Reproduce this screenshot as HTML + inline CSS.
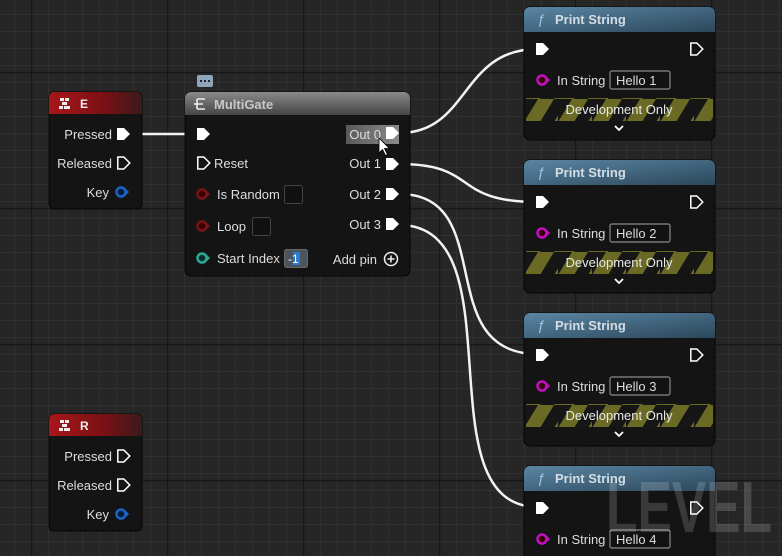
<!DOCTYPE html>
<html><head><meta charset="utf-8"><style>
html,body{margin:0;padding:0;background:#262626;overflow:hidden;width:782px;height:556px}
svg{display:block}
text{font-family:"Liberation Sans",sans-serif}
</style></head><body>
<svg width="782" height="556" viewBox="0 0 782 556" xmlns="http://www.w3.org/2000/svg">
<defs>
<pattern id="minor" x="-3" y="-3" width="17" height="17" patternUnits="userSpaceOnUse">
<path d="M0,0.5 H17 M0.5,0 V17" stroke="#303030" stroke-width="1" fill="none"/>
</pattern>
<pattern id="major" x="31" y="72" width="136" height="136" patternUnits="userSpaceOnUse">
<path d="M0,0.5 H136 M0.5,0 V136" stroke="#171717" stroke-width="1.5" fill="none"/>
</pattern>
<pattern id="stripes" x="0" y="0" width="34" height="23" patternUnits="userSpaceOnUse">
<rect width="34" height="23" fill="#161616"/>
<polygon points="0,23 14,0 30,0 16,23" fill="#6a6a24"/>
<polygon points="30,23 44,0 60,0 46,23" fill="#6a6a24"/>
</pattern>
<linearGradient id="blueH" x1="0" y1="0" x2="1" y2="1">
<stop offset="0" stop-color="#5a86a3"/><stop offset="1" stop-color="#2c475b"/></linearGradient>
<linearGradient id="redH" x1="0" y1="0" x2="1" y2="0">
<stop offset="0" stop-color="#a8161a"/><stop offset="0.6" stop-color="#7a1014"/><stop offset="1" stop-color="#3a1a1a"/></linearGradient>
<linearGradient id="grayH" x1="0" y1="0" x2="0" y2="1">
<stop offset="0" stop-color="#8a8a8a"/><stop offset="1" stop-color="#444"/></linearGradient>
<linearGradient id="hl" x1="0" y1="0" x2="1" y2="0">
<stop offset="0" stop-color="#5a5a5a"/><stop offset="1" stop-color="#8a8a8a"/></linearGradient>
<g id="execF"><path d="M0,-6 h7 l6,6 l-6,6 h-7 z" fill="#fff"/></g>
<g id="execO"><path d="M0.8,-6 h6 l6,6 l-6,6 h-6 z" fill="none" stroke="#fff" stroke-width="1.5"/></g>
<g id="print">
<rect x="0" y="0" width="191" height="133" rx="6" fill="#141414" stroke="#050505"/>
<path d="M0,25 V6 a6,6 0 0 1 6,-6 H185 a6,6 0 0 1 6,6 V25 z" fill="url(#blueH)"/>
<text x="13" y="17" font-size="14" font-style="italic" fill="#9cc8e8" font-family="Liberation Serif,serif">ƒ</text>
<text x="31" y="17" font-size="13" font-weight="bold" fill="#d4dde4">Print String</text>
<use href="#execF" x="12" y="42"/>
<use href="#execO" x="166" y="42"/>
<circle cx="18" cy="73" r="4.5" fill="#300" stroke="#c010c0" stroke-width="2.5"/>
<path d="M23,70 l3,3 l-3,3z" fill="#c010c0"/>
<text x="33" y="78" font-size="13" fill="#ddd">In String</text>
<rect x="86" y="64" width="60" height="18" rx="2" fill="#121212" stroke="#8a8a8a" stroke-width="1.2"/>
<rect x="2" y="91" width="187" height="23" fill="url(#stripes)"/>
<text x="95" y="107" font-size="13" fill="#e8e8e8" text-anchor="middle">Development Only</text>
<path d="M91,119 l4,4 l4,-4" stroke="#fff" stroke-width="1.8" fill="none"/>
</g>
</defs>
<rect width="782" height="556" fill="#262626"/>
<rect width="782" height="556" fill="url(#minor)"/>
<rect width="782" height="556" fill="url(#major)"/>

<g stroke="#f2f2f2" stroke-width="2.5" fill="none">
<path d="M131,134 H198"/>
<path d="M399,133 C470,133 460,49 538,49"/>
<path d="M399,164 C480,164 450,202 538,202"/>
<path d="M399,194 C500,194 430,354 538,354"/>
<path d="M399,225 C520,225 420,507 538,507"/>
</g>

<g transform="translate(49,92)">
<rect width="93" height="117" rx="5" fill="#141414" stroke="#050505"/>
<path d="M0,22 V5 a5,5 0 0 1 5,-5 H88 a5,5 0 0 1 5,5 V22z" fill="url(#redH)"/>
<g fill="#eee"><rect x="11" y="6" width="4" height="3"/><rect x="16" y="6" width="4" height="3"/><rect x="13" y="10" width="5" height="3"/><rect x="10" y="14" width="4" height="3"/><rect x="15" y="14" width="6" height="3"/></g>
<text x="31" y="16" font-size="12" font-weight="bold" fill="#eee">E</text>
<text x="63" y="47" font-size="13" fill="#ddd" text-anchor="end">Pressed</text>
<use href="#execF" x="68" y="42"/>
<text x="63" y="76" font-size="13" fill="#ddd" text-anchor="end">Released</text>
<use href="#execO" x="68" y="71"/>
<text x="60" y="105" font-size="13" fill="#ddd" text-anchor="end">Key</text>
<circle cx="72" cy="100" r="4.5" fill="#0a1a30" stroke="#1a64c8" stroke-width="2.5"/>
<path d="M77,97 l3,3 l-3,3z" fill="#1a64c8"/>
</g>

<g transform="translate(49,414)">
<rect width="93" height="117" rx="5" fill="#141414" stroke="#050505"/>
<path d="M0,22 V5 a5,5 0 0 1 5,-5 H88 a5,5 0 0 1 5,5 V22z" fill="url(#redH)"/>
<g fill="#eee"><rect x="11" y="6" width="4" height="3"/><rect x="16" y="6" width="4" height="3"/><rect x="13" y="10" width="5" height="3"/><rect x="10" y="14" width="4" height="3"/><rect x="15" y="14" width="6" height="3"/></g>
<text x="31" y="16" font-size="12" font-weight="bold" fill="#eee">R</text>
<text x="63" y="47" font-size="13" fill="#ddd" text-anchor="end">Pressed</text>
<use href="#execO" x="68" y="42"/>
<text x="63" y="76" font-size="13" fill="#ddd" text-anchor="end">Released</text>
<use href="#execO" x="68" y="71"/>
<text x="60" y="105" font-size="13" fill="#ddd" text-anchor="end">Key</text>
<circle cx="72" cy="100" r="4.5" fill="#0a1a30" stroke="#1a64c8" stroke-width="2.5"/>
<path d="M77,97 l3,3 l-3,3z" fill="#1a64c8"/>
</g>

<rect x="197" y="75" width="16" height="12" rx="2" fill="#8fa6b8"/>
<g fill="#223"><rect x="200" y="80" width="2" height="2"/><rect x="204" y="80" width="2" height="2"/><rect x="208" y="80" width="2" height="2"/></g>

<g transform="translate(185,92)">
<rect width="225" height="184" rx="6" fill="#141414" stroke="#050505"/>
<path d="M0,23 V6 a6,6 0 0 1 6,-6 H219 a6,6 0 0 1 6,6 V23z" fill="url(#grayH)"/>
<g stroke="#eee" stroke-width="1.6" fill="none"><path d="M12,7 V17 M12,7 h8 M12,12 h6 M12,17 h8"/><path d="M9,12 h3"/></g>
<text x="29" y="17" font-size="13" font-weight="bold" fill="#c8c8c8">MultiGate</text>
<use href="#execF" x="12" y="42"/>
<use href="#execO" x="12" y="71"/>
<text x="29" y="76" font-size="13" fill="#ddd">Reset</text>
<circle cx="17" cy="102" r="4.5" fill="#300" stroke="#7a1515" stroke-width="2.5"/>
<path d="M22,99 l3,3 l-3,3z" fill="#7a1515"/>
<text x="32" y="107" font-size="13" fill="#ddd">Is Random</text>
<rect x="99.5" y="93.5" width="18" height="18" rx="2" fill="#111" stroke="#444"/>
<circle cx="17" cy="134" r="4.5" fill="#300" stroke="#7a1515" stroke-width="2.5"/>
<path d="M22,131 l3,3 l-3,3z" fill="#7a1515"/>
<text x="32" y="139" font-size="13" fill="#ddd">Loop</text>
<rect x="67.5" y="125.5" width="18" height="18" rx="2" fill="#111" stroke="#444"/>
<circle cx="17" cy="166" r="4.5" fill="#0a2a26" stroke="#2aa898" stroke-width="2.5"/>
<path d="M22,163 l3,3 l-3,3z" fill="#2aa898"/>
<text x="32" y="171" font-size="13" fill="#ddd">Start Index</text>
<rect x="99.5" y="157.5" width="23" height="18" rx="2" fill="#4a5560" stroke="#666"/>
<rect x="108" y="160" width="7" height="13" fill="#2a7ad0"/>
<text x="103" y="171" font-size="12" fill="#fff">-1</text>
<rect x="161" y="33" width="53" height="19" fill="url(#hl)"/>
<text x="196" y="47" font-size="13" fill="#ddd" text-anchor="end">Out 0</text>
<use href="#execF" x="201" y="41"/>
<text x="196" y="76" font-size="13" fill="#ddd" text-anchor="end">Out 1</text>
<use href="#execF" x="201" y="72"/>
<text x="196" y="107" font-size="13" fill="#ddd" text-anchor="end">Out 2</text>
<use href="#execF" x="201" y="102"/>
<text x="196" y="137" font-size="13" fill="#ddd" text-anchor="end">Out 3</text>
<use href="#execF" x="201" y="132"/>
<text x="192" y="172" font-size="13" fill="#ddd" text-anchor="end">Add pin</text>
<circle cx="206" cy="167" r="6.5" fill="none" stroke="#eee" stroke-width="1.5"/>
<path d="M202.5,167 h7 M206,163.5 v7" stroke="#eee" stroke-width="1.5"/>
</g>

<g transform="translate(524,7)"><use href="#print"/><text x="92" y="78" font-size="13" fill="#ddd">Hello 1</text></g>
<g transform="translate(524,160)"><use href="#print"/><text x="92" y="78" font-size="13" fill="#ddd">Hello 2</text></g>
<g transform="translate(524,313)"><use href="#print"/><text x="92" y="78" font-size="13" fill="#ddd">Hello 3</text></g>
<g transform="translate(524,466)"><use href="#print"/><text x="92" y="78" font-size="13" fill="#ddd">Hello 4</text></g>

<path d="M379,138 v15 l3.5,-3.5 l3,6 l2,-1 l-3,-6 h5 z" fill="#fff" stroke="#000" stroke-width="0.8"/>

<text x="606" y="532" font-size="72" font-weight="bold" fill="#fff" fill-opacity="0.16" textLength="166" lengthAdjust="spacingAndGlyphs">LEVEL</text>
</svg>
</body></html>
